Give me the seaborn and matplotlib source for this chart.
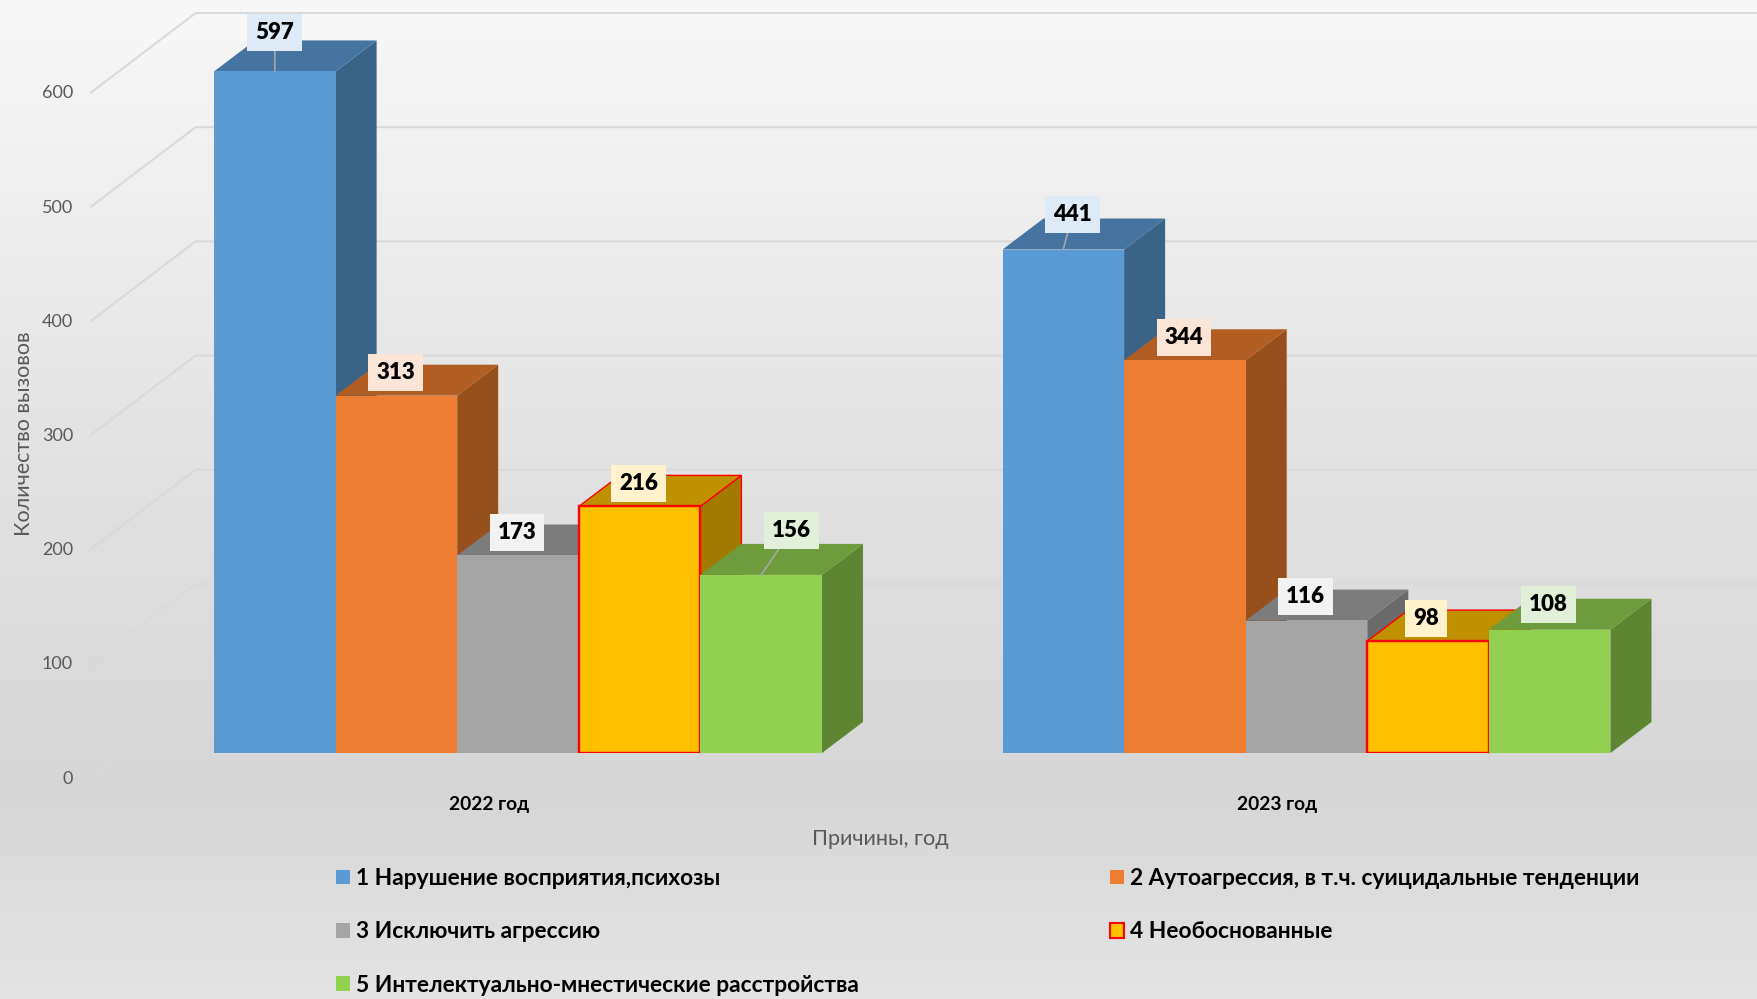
import numpy as np
import pandas as pd
import seaborn as sns
import matplotlib
matplotlib.use('Agg')
import matplotlib.pyplot as plt
from matplotlib.patches import Patch, Polygon
from matplotlib.transforms import ScaledTranslation

years = ['2022 год', '2023 год']
reasons = ['1 Нарушение восприятия,психозы',
           '2 Аутоагрессия, в т.ч. суицидальные тенденции',
           '3 Исключить агрессию',
           '4 Необоснованные',
           '5 Интелектуально-мнестические расстройства']
values_2022 = [597, 313, 173, 216, 156]
values_2023 = [441, 344, 116, 98, 108]

front_colors = ['#5B9BD5', '#ED7D31', '#A5A5A5', '#FFC000', '#91D14F']
top_colors = ['#4574A0', '#B25E23', '#7C7C7C', '#BF9000', '#6E9C3C']
side_colors = ['#3A6388', '#974F1C', '#6A6A6A', '#A37A00', '#5E8532']
box_colors = ['#DEEAF6', '#FBE5D6', '#F2F2F2', '#FFF2CC', '#E2EFD9']

sns.set_theme(style='white')
plt.rcParams['font.family'] = ['Lato', 'Noto Sans']

W, H = 1758, 999
fig = plt.figure(figsize=(W / 100, H / 100), dpi=100)

# background gradient
bg = fig.add_axes([0, 0, 1, 1], zorder=-1)
stops_y = [0, 150, 300, 500, 790, 999]
stops_v = [247, 240, 233, 224, 213, 227]
grad = np.interp(np.arange(H), stops_y, stops_v).reshape(-1, 1)
bg.imshow(grad, cmap='gray', vmin=0, vmax=255, aspect='auto')
bg.axis('off')

# axes = front plane of the bars
left, right, floor, top = 123, W, 753, 68
ax = fig.add_axes([left / W, 1 - floor / H, (right - left) / W, (floor - top) / H])
ax.patch.set_alpha(0)

df = pd.DataFrame({'year': np.repeat(years, len(reasons)),
                   'reason': reasons * 2,
                   'count': values_2022 + values_2023})
sns.barplot(data=df, x='year', y='count', hue='reason', palette=front_colors,
            width=0.771, gap=0, saturation=1, linewidth=0, legend=False, ax=ax)

x_unit = 788.5
center0 = 518
ax.set_xlim((left - center0) / x_unit, (right - center0) / x_unit)
ax.set_ylim(0, 600)
y_unit = (floor - top) / 600
px_x = 1 / x_unit
px_y = 1 / y_unit
sns.despine(ax=ax, left=True, bottom=True)

# gridlines: side wall + back wall
for v in range(0, 700, 100):
    xs = [ax.get_xlim()[0] - 32 * px_x, ax.get_xlim()[0] + 72.7 * px_x, ax.get_xlim()[1]]
    ys = [v - 24.5 * px_y, v + 55 * px_y, v + 55 * px_y]
    ax.plot(xs, ys, color='#D9D9D9', lw=1.5, zorder=1, clip_on=False)

# 3d faces
dx, dy = 41 * px_x, 31 * px_y
for i, container in enumerate(ax.containers):
    edge = 'red' if i == 3 else 'none'
    for bar in container:
        x0, w, h = bar.get_x(), bar.get_width(), bar.get_height()
        x1 = x0 + w
        side = [(x1, 0), (x1 + dx, dy), (x1 + dx, h + dy), (x1, h)]
        cap = [(x0, h), (x0 + dx, h + dy), (x1 + dx, h + dy), (x1, h)]
        ax.add_patch(Polygon(side, fc=side_colors[i], ec=edge, lw=1.0, zorder=3 + i, clip_on=False))
        ax.add_patch(Polygon(cap, fc=top_colors[i], ec=edge, lw=1.0, zorder=3 + i, clip_on=False))
        bar.set_zorder(3.5 + i)
        if i == 3:
            bar.set_edgecolor('#FF0000')
            bar.set_linewidth(1.7)

# data labels, moved by hand like in the original
offsets = [[(0, 39), (-1, 23), (-1, 23), (-1, 23), (30, 44)],
           [(9, 35), (-1, 23), (-1, 24), (-2, 23), (-1, 25)]]
with_leader = [(0, 0), (1, 0), (0, 4)]
for i, container in enumerate(ax.containers):
    for g, bar in enumerate(container):
        cx = bar.get_x() + bar.get_width() / 2
        h = bar.get_height()
        arrow = None
        if (g, i) in with_leader:
            arrow = dict(arrowstyle='-', color='#A6A6A6', lw=1.2, shrinkA=0, shrinkB=0)
        ax.annotate(f'{h:.0f}', xy=(cx, h), xytext=offsets[g][i], textcoords='offset pixels',
                    ha='center', va='center', fontsize=16, fontweight='heavy', color='black',
                    bbox=dict(boxstyle='square,pad=0.36', fc=box_colors[i], ec='none'),
                    arrowprops=arrow, zorder=20, annotation_clip=False)

# axis text
ax.set_yticks(range(0, 700, 100))
ax.tick_params(axis='y', length=0, pad=36, labelsize=13, labelcolor='#595959')
ax.tick_params(axis='x', length=0, pad=31, labelsize=13.8)
for lab in ax.get_yticklabels():
    lab.set_transform(lab.get_transform() + ScaledTranslation(0, -24 / 100, fig.dpi_scale_trans))
for lab in ax.get_xticklabels():
    lab.set_fontweight('bold')
    lab.set_color('black')
    lab.set_transform(lab.get_transform() + ScaledTranslation(-29 / 100, 0, fig.dpi_scale_trans))

ax.set_ylabel('Количество вызовов', fontsize=15.5, color='#595959', va='center')
ax.yaxis.set_label_coords(24 / W, 1 - 434 / H, transform=fig.transFigure)
ax.set_xlabel('Причины, год', fontsize=15.6, color='#595959', va='center')
ax.xaxis.set_label_coords(880 / W, 1 - 839 / H, transform=fig.transFigure)

# legend fills by column, so 1 3 5 / 2 4
order = [0, 2, 4, 1, 3]
handles = [Patch(facecolor=front_colors[i], edgecolor='#FF0000' if i == 3 else 'none',
                 linewidth=1.5 if i == 3 else 0) for i in order]
leg = fig.legend(handles, [reasons[i] for i in order], ncol=2, loc='upper left',
                 bbox_to_anchor=(336 / W, 1 - 868 / H), frameon=False, borderpad=0,
                 borderaxespad=0, handlelength=0.62, handleheight=0.62, handletextpad=0.256,
                 labelspacing=1.425, columnspacing=11.05,
                 labelcolor='black', prop=dict(size=16.35, weight='bold'))

fig.savefig('out.png', dpi=100)
